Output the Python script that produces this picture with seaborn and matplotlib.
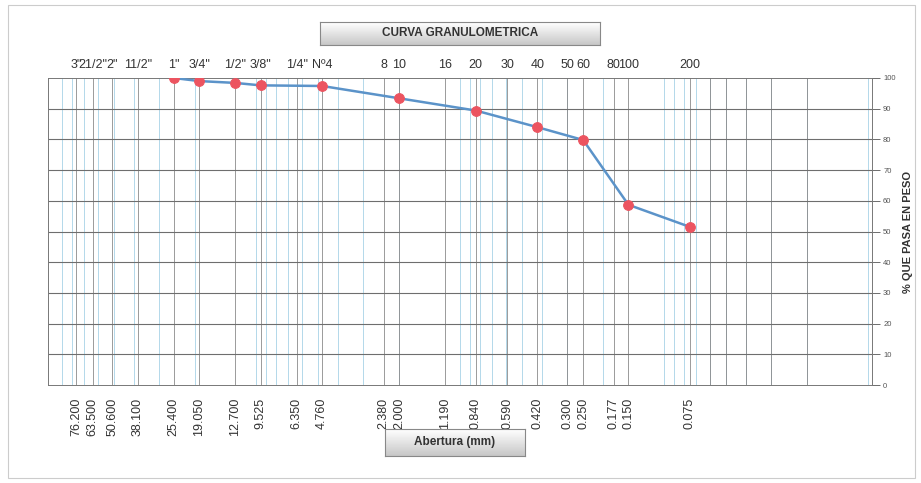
import numpy as np
import matplotlib
matplotlib.use("Agg")
import matplotlib.pyplot as plt
import seaborn as sns
import pandas as pd

# ---- data ----
sieve_mm = [76.2, 63.5, 50.8, 38.1, 25.4, 19.05, 12.7, 9.525, 6.35, 4.76,
            2.38, 2.0, 1.19, 0.84, 0.59, 0.42, 0.30, 0.25, 0.177, 0.15, 0.075]
sieve_top_labels = ['3"', '21/2"', '2"', '11/2"', '1"', '3/4"', '1/2"', '3/8"', '1/4"', 'Nº4',
                    '8', '10', '16', '20', '30', '40', '50', '60', '80', '100', '200']
sieve_bottom_labels = ['76.200', '63.500', '50.600', '38.100', '25.400', '19.050', '12.700',
                       '9.525', '6.350', '4.760', '2.380', '2.000', '1.190', '0.840', '0.590',
                       '0.420', '0.300', '0.250', '0.177', '0.150', '0.075']
fine_lines_mm = [0.06, 0.05, 0.04, 0.03, 0.02]

test_mm = [25.4, 19.05, 12.7, 9.525, 4.76, 2.0, 0.84, 0.42, 0.25, 0.15, 0.075]
passing_pct = [100, 99.0, 98.4, 97.6, 97.4, 93.4, 89.4, 84.0, 79.8, 58.7, 51.5]
y_ticks = [0, 10, 20, 30, 40, 50, 60, 70, 80, 90, 100]

df = pd.DataFrame({"Abertura (mm)": test_mm, "% QUE PASA EN PESO": passing_pct})

sns.set_theme(style="white")
plt.rcParams['font.family'] = ['Liberation Sans', 'DejaVu Sans']

XMAX, XMIN = 105.0, 0.0096

fig = plt.figure(figsize=(9.21, 4.83), dpi=100)
ax = fig.add_axes([48/921, 1-385/483, (872-48)/921, (385-78)/483])
ax.set_xscale('log')
ax.set_xlim(XMAX, XMIN)
ax.set_ylim(0, 100)

# light blue log grid
for d in range(-2, 2):
    for k in range(1, 10):
        v = k * 10.0**d
        if XMIN <= v <= XMAX:
            ax.axvline(v, color='#b3d8ea', lw=0.7, zorder=1)
# gray sieve lines
for v in sieve_mm + fine_lines_mm:
    ax.axvline(v, color='#8a8a8a', lw=0.6, zorder=1.2)
for yv in y_ticks[1:-1]:
    ax.axhline(yv, color='#6e6e6e', lw=0.8, zorder=1.5)

sns.lineplot(data=df, x="Abertura (mm)", y="% QUE PASA EN PESO", ax=ax, color='#5b93c9',
             lw=1.8, marker='o', markersize=7, markerfacecolor='#ec5460',
             markeredgecolor='#ec5460', zorder=3, sort=False)

ax.set_xlabel('')
ax.set_ylabel('')
ax.set_xticks(sieve_mm)
ax.set_xticklabels(sieve_bottom_labels, rotation=90, fontsize=9, color='#333333')
ax.xaxis.set_minor_locator(matplotlib.ticker.NullLocator())
ax.tick_params(axis='x', length=0, pad=9)

ax.yaxis.tick_right()
ax.set_yticks(y_ticks)
ax.set_yticklabels([str(v) for v in y_ticks], fontsize=5.5, color='#555555')
ax.tick_params(axis='y', length=6, width=0.6, color='#555555', right=True, left=False, pad=2)
ax.yaxis.set_label_position('right')
ax.set_ylabel('% QUE PASA EN PESO', fontsize=8, fontweight='bold', color='#333333', labelpad=5)

for s in ax.spines.values():
    s.set_color('#777777')
    s.set_linewidth(0.7)

top = ax.twiny()
top.set_xscale('log')
top.set_xlim(XMAX, XMIN)
top.set_xticks(sieve_mm)
top.set_xticklabels(sieve_top_labels, fontsize=9, color='#333333')
top.xaxis.set_minor_locator(matplotlib.ticker.NullLocator())
top.tick_params(axis='x', length=0, pad=5)
for s in top.spines.values():
    s.set_visible(False)

# title box with gradient
tax = fig.add_axes([320/921, 1-45/483, 280/921, 23/483])
grad = np.linspace(1.0, 0.78, 50).reshape(-1, 1)
tax.imshow(grad, aspect='auto', cmap='gray', vmin=0, vmax=1, extent=[0, 1, 0, 1])
tax.set_xticks([]); tax.set_yticks([])
for s in tax.spines.values():
    s.set_color('#888888'); s.set_linewidth(0.8)
tax.text(0.5, 0.5, 'CURVA GRANULOMETRICA', ha='center', va='center', fontsize=8.5,
         fontweight='bold', color='#333333', transform=tax.transAxes)

# xlabel box
xax = fig.add_axes([385/921, 1-456/483, 140/921, 27/483])
xax.imshow(grad, aspect='auto', cmap='gray', vmin=0, vmax=1, extent=[0, 1, 0, 1])
xax.set_xticks([]); xax.set_yticks([])
for s in xax.spines.values():
    s.set_color('#888888'); s.set_linewidth(0.8)
xax.text(0.5, 0.5, 'Abertura (mm)', ha='center', va='center', fontsize=8.5,
         fontweight='bold', color='#333333', transform=xax.transAxes)

# outer frame
fig.patches.append(matplotlib.patches.Rectangle((8/921, 5/483), 907/921, 473/483,
                   transform=fig.transFigure, fill=False, edgecolor='#cccccc', lw=0.8))

fig.savefig('out.png', dpi=100)
